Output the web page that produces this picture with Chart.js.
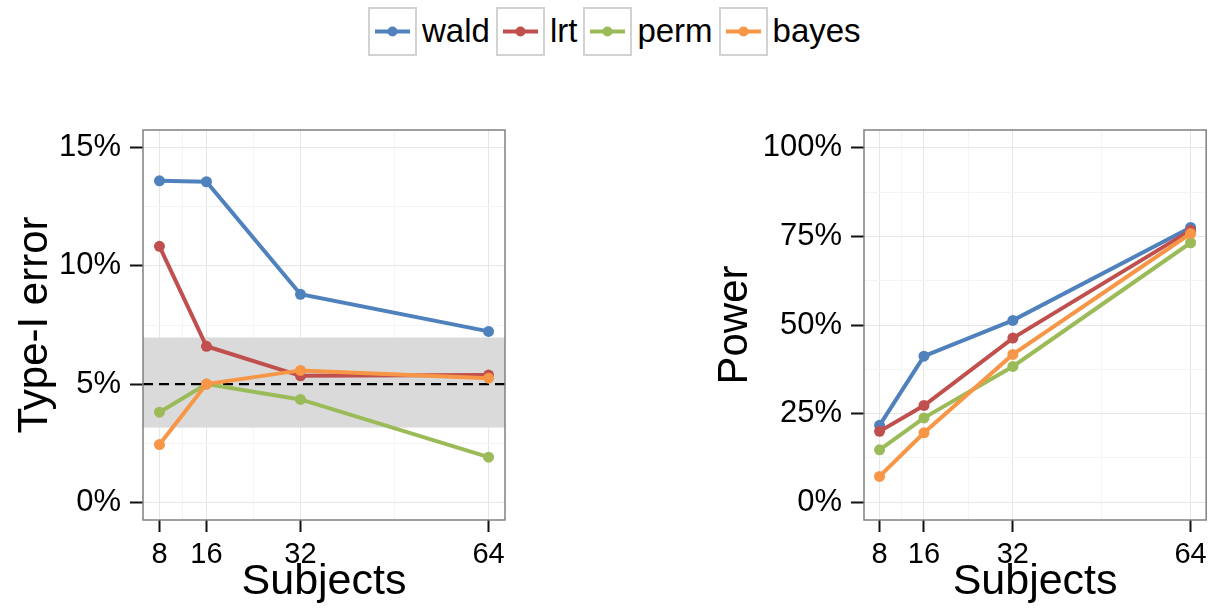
<!DOCTYPE html>
<html><head><meta charset="utf-8">
<script src="https://cdn.jsdelivr.net/npm/chart.js@4.4.1/dist/chart.umd.min.js"></script>
<style>
html,body{margin:0;padding:0;background:#fff;width:1213px;height:612px;overflow:hidden;font-family:"Liberation Sans",Arial,sans-serif;}
.wrap{position:absolute;top:0;height:612px;}
#legend{position:absolute;left:368px;top:7px;height:48px;display:flex;align-items:center;}
.key{width:45px;height:45px;border:2px solid #d2d2d2;box-sizing:content-box;margin-right:5px;}
.lab{font-size:33px;color:#000;margin-right:6px;line-height:48px;}
</style></head>
<body>
<div id="legend"></div>
<div class="wrap" style="left:0;width:520px;"><canvas id="c1" width="520" height="612"></canvas></div>
<div class="wrap" style="left:700px;width:513px;"><canvas id="c2" width="513" height="612"></canvas></div>
<script>
// ---- data ----
const subjects = [8, 16, 32, 64];
const seriesNames = ['wald', 'lrt', 'perm', 'bayes'];
const seriesColors = ['#4F81BD', '#C0504D', '#9BBB59', '#F79646'];

const typeIWald  = [13.6, 13.56, 8.8, 7.23];
const typeILrt   = [10.83, 6.6, 5.35, 5.38];
const typeIPerm  = [3.81, 5.0, 4.35, 1.91];
const typeIBayes = [2.44, 5.0, 5.58, 5.25];

const powerWald  = [21.7, 41.2, 51.3, 77.5];
const powerLrt   = [20.0, 27.3, 46.3, 76.7];
const powerPerm  = [14.8, 23.8, 38.3, 73.2];
const powerBayes = [7.3, 19.6, 41.7, 75.8];

const xMajorTicks = [8, 16, 32, 64];
const xMinorTicks = [12, 24, 48];
const typeIMajorTicks = [0, 5, 10, 15];
const typeIMinorTicks = [2.5, 7.5, 12.5];
const powerMajorTicks = [0, 25, 50, 75, 100];
const powerMinorTicks = [12.5, 37.5, 62.5, 87.5];

const bandLow = 3.16, bandHigh = 6.97, nominalLevel = 5;

// ---- legend ----
const legendEl = document.getElementById('legend');
seriesNames.forEach((n, i) => {
  const k = document.createElement('div'); k.className = 'key';
  k.innerHTML = '<svg width="45" height="45"><line x1="5" y1="22.5" x2="40" y2="22.5" stroke="' + seriesColors[i] + '" stroke-width="4"/><circle cx="22.5" cy="22.5" r="5" fill="' + seriesColors[i] + '"/></svg>';
  const l = document.createElement('div'); l.className = 'lab'; l.textContent = n;
  legendEl.appendChild(k); legendEl.appendChild(l);
});

const FONT = '"Liberation Sans", Arial, sans-serif';

const panelBorder = {
  id: 'panelBorder',
  afterDraw(chart) {
    const a = chart.chartArea, c = chart.ctx;
    c.save(); c.strokeStyle = '#808080'; c.lineWidth = 1.5;
    c.strokeRect(a.left, a.top, a.right - a.left, a.bottom - a.top);
    c.restore();
  }
};
const bandPlugin = {
  id: 'band',
  beforeDatasetsDraw(chart) {
    const a = chart.chartArea, c = chart.ctx, y = chart.scales.y;
    c.save();
    c.fillStyle = '#dadada';
    const t = y.getPixelForValue(bandHigh), b = y.getPixelForValue(bandLow);
    c.fillRect(a.left, t, a.right - a.left, b - t);
    const m = y.getPixelForValue(nominalLevel);
    c.strokeStyle = '#000'; c.lineWidth = 2.2; c.setLineDash([10, 6]);
    c.beginPath(); c.moveTo(a.left, m); c.lineTo(a.right, m); c.stroke();
    c.restore();
  }
};

function makeChart(id, values, yMin, yMax, yMajor, yMinor, yTitle, yWidth, padRight, extra) {
  const datasets = values.map((v, i) => ({
    label: seriesNames[i],
    data: subjects.map((s, j) => ({x: s, y: v[j]})),
    borderColor: seriesColors[i], backgroundColor: seriesColors[i],
    borderWidth: 4, pointRadius: 5.5, pointBorderWidth: 0, pointHoverRadius: 5.5,
    showLine: true, tension: 0, order: values.length - i
  }));
  const gridColor = (maj) => (ctx) => maj.includes(ctx.tick.value) ? '#e6e6e6' : '#f4f4f4';
  const tickColor = (maj) => (ctx) => maj.includes(ctx.tick.value) ? '#111' : 'rgba(0,0,0,0)';
  return new Chart(document.getElementById(id), {
    type: 'scatter',
    data: {datasets},
    plugins: extra.concat([panelBorder]),
    options: {
      responsive: false, animation: false,
      layout: {padding: {top: 130, right: padRight, left: 0, bottom: 0}},
      plugins: {legend: {display: false}, tooltip: {enabled: false}},
      scales: {
        x: {
          type: 'linear', min: 5.2, max: 66.8,
          afterBuildTicks: s => { s.ticks = xMajorTicks.concat(xMinorTicks).sort((a, b) => a - b).map(v => ({value: v})); },
          afterFit: s => { s.height = 92; },
          border: {display: false},
          grid: {color: gridColor(xMajorTicks), tickColor: tickColor(xMajorTicks), lineWidth: 1, tickLength: 12, tickWidth: 2, drawTicks: true},
          ticks: {autoSkip: false, maxRotation: 0, padding: 6, color: '#000', font: {family: FONT, size: 29},
            callback: v => xMajorTicks.includes(v) ? String(v) : ''},
          title: {display: true, text: 'Subjects', color: '#000', font: {family: FONT, size: 43, lineHeight: 1}, padding: {top: 0, bottom: 8}}
        },
        y: {
          type: 'linear', min: yMin, max: yMax,
          afterBuildTicks: s => { s.ticks = yMajor.concat(yMinor).sort((a, b) => a - b).map(v => ({value: v})); },
          afterFit: s => { s.width = yWidth; },
          border: {display: false},
          grid: {color: gridColor(yMajor), tickColor: tickColor(yMajor), lineWidth: 1, tickLength: 13, tickWidth: 2, drawTicks: true},
          ticks: {autoSkip: false, padding: 9, color: '#000', font: {family: FONT, size: 31},
            callback: v => yMajor.includes(v) ? v + '%' : ''},
          title: {display: true, text: yTitle, color: '#000', font: {family: FONT, size: 42, lineHeight: 1}, padding: {top: 14, bottom: 0}}
        }
      }
    }
  });
}

makeChart('c1', [typeIWald, typeILrt, typeIPerm, typeIBayes], -0.75, 15.75, typeIMajorTicks, typeIMinorTicks, 'Type-I error', 143, 15, [bandPlugin]);
makeChart('c2', [powerWald, powerLrt, powerPerm, powerBayes], -5, 105, powerMajorTicks, powerMinorTicks, 'Power', 164, 4, []);
</script>
</body></html>
